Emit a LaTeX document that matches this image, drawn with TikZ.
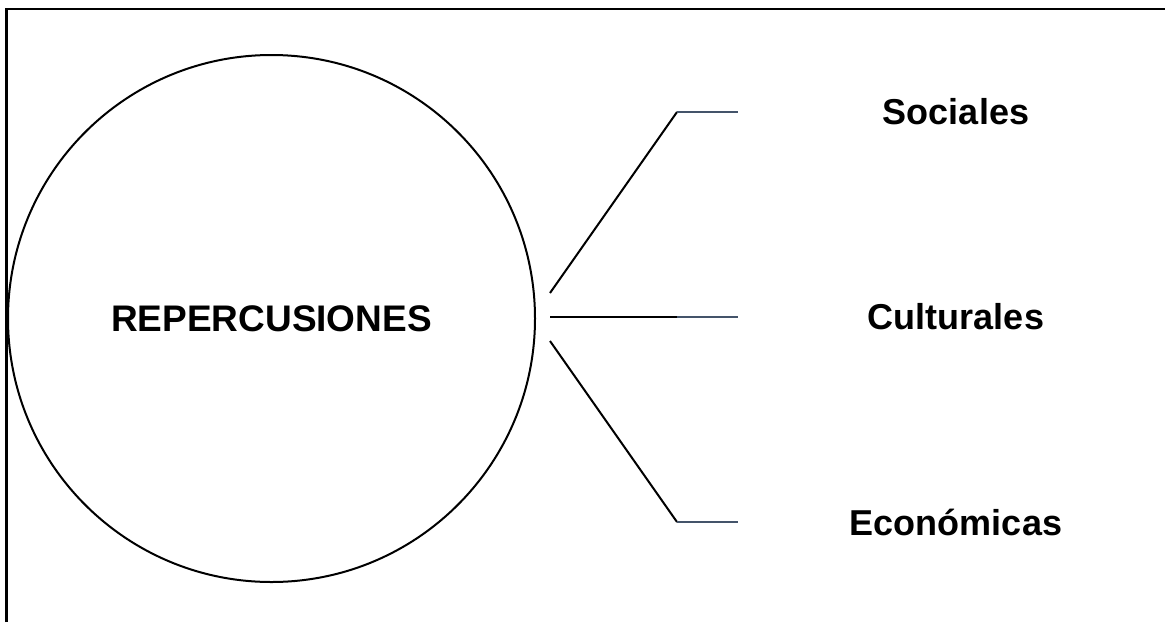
\documentclass[tikz,border=0pt]{standalone}
\usepackage{fontspec}
\setmainfont{Liberation Sans}
\usetikzlibrary{positioning}
\definecolor{slate}{HTML}{44546A}

\begin{document}
\begin{tikzpicture}[x=1pt, y=-1pt, line width=2pt,
        lbl/.style={font=\bfseries\fontsize{36}{40}\selectfont}]
        \useasboundingbox (0,0) rectangle (1165,622);
        % frame, only top and left edges show
        \draw[line width=2.6pt] (6.5,622) -- (6.5,9) -- (1165,9);

        \node[draw, circle, minimum size=527pt, inner sep=0pt, lbl, font=\bfseries\fontsize{37}{40}\selectfont] (rep) at (271.5,318.5) {REPERCUSIONES};

        \coordinate (a0) at (550,293);
        \coordinate (a1) at (677,112);
        \coordinate (a2) at (738,112);
        \coordinate (b0) at (550,317);
        \coordinate (b1) at (677,317);
        \coordinate (b2) at (738,317);
        \coordinate (c0) at (550,341);
        \coordinate (c1) at (677,522);
        \coordinate (c2) at (738,522);

        \draw (a0) -- (a1);
        \draw (b0) -- (b1);
        \draw (c0) -- (c1);
        \draw[slate] (a1) -- (a2);
        \draw[slate] (b1) -- (b2);
        \draw[slate] (c1) -- (c2);

        \node[lbl] (soc) at (956,112) {Sociales};
        \node[lbl] (cul) at (956,317) {Culturales};
        \node[lbl] (eco) at (956,522) {Económicas};
    \end{tikzpicture}
\end{document}
